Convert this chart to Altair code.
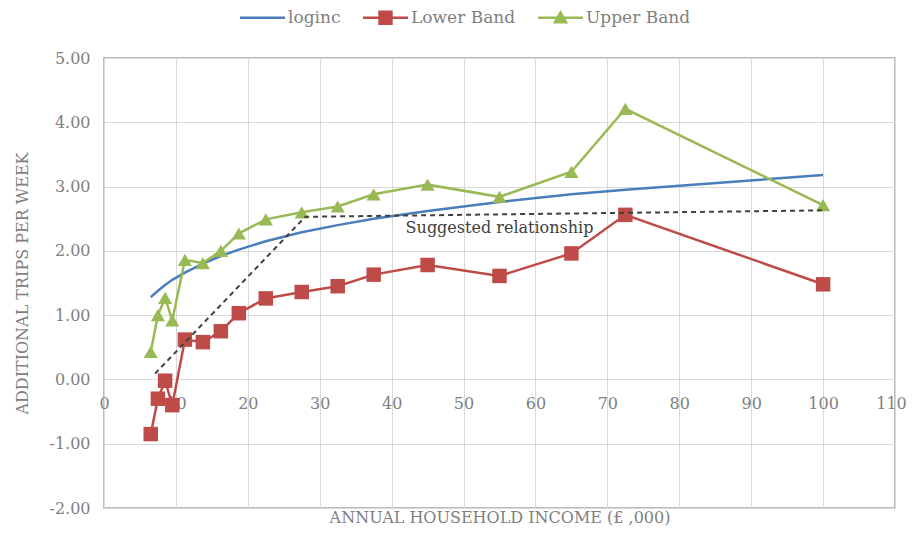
import altair as alt
import pandas as pd

# ---- data ----
income = [6.5, 7.5, 8.5, 9.5, 11.25, 13.75, 16.25, 18.75, 22.5, 27.5, 32.5, 37.5, 45, 55, 65, 72.5, 100]
loginc = [1.28, 1.38, 1.47, 1.55, 1.66, 1.80, 1.92, 2.02, 2.15, 2.29, 2.40, 2.50, 2.62, 2.76, 2.88, 2.95, 3.18]
lower_band = [-0.85, -0.30, -0.02, -0.40, 0.62, 0.58, 0.75, 1.03, 1.26, 1.36, 1.45, 1.63, 1.78, 1.61, 1.96, 2.56, 1.48]
upper_band = [0.43, 1.00, 1.27, 0.92, 1.86, 1.81, 2.00, 2.27, 2.49, 2.60, 2.69, 2.88, 3.03, 2.84, 3.23, 4.21, 2.71]

suggested_x = [7.1, 28.0, 100]
suggested_y = [0.09, 2.53, 2.63]

note_x = [55]
note_y = [2.36]
note_text = ["Suggested relationship"]

series_names = ["loginc", "Lower Band", "Upper Band"]
series_colors = ["#4A7EBB", "#BE4B48", "#98B954"]
# legend glyphs: line + marker drawn as filled shapes
legend_glyphs = [
    "M-1,-0.055L1,-0.055L1,0.055L-1,0.055Z",
    "M-1,-0.055L1,-0.055L1,0.055L-1,0.055ZM-0.32,-0.32L0.32,-0.32L0.32,0.32L-0.32,0.32Z",
    "M-1,-0.055L1,-0.055L1,0.055L-1,0.055ZM0,-0.34L0.34,0.26L-0.34,0.26Z",
]

x_ticks = [0, 10, 20, 30, 40, 50, 60, 70, 80, 90, 100, 110]
y_ticks = [-2, -1, 0, 1, 2, 3, 4, 5]

rows = []
for name, vals in zip(series_names, [loginc, lower_band, upper_band]):
    for xv, yv in zip(income, vals):
        rows.append({"income": xv, "value": yv, "series": name})
df = pd.DataFrame(rows)

sug_df = pd.DataFrame({"income": suggested_x, "value": suggested_y})
note_df = pd.DataFrame({"income": note_x, "value": note_y, "label": note_text})

SERIF = "DejaVu Serif"
GREY = "#7f7f7f"

x_scale = alt.Scale(domain=[0, 110], nice=False, zero=False)
y_scale = alt.Scale(domain=[-2, 5], nice=False, zero=False)
color_scale = alt.Scale(domain=series_names, range=series_colors)

x_axis = alt.Axis(
    values=x_ticks, grid=True, gridColor="#d9d9d9", gridWidth=1,
    domain=False, ticks=False, labelPadding=-113, labelFlush=False,
    labelOffset={"condition": {"test": "datum.value == 110", "value": -4}, "value": 0},
    labelOverlap=False, labelFont=SERIF, labelFontSize=16, labelColor=GREY,
    title="ANNUAL HOUSEHOLD INCOME (£ ,000)", titleFont=SERIF, titleFontSize=16,
    titleFontWeight="normal", titleColor=GREY, titleY=1,
)
y_axis = alt.Axis(
    values=y_ticks, grid=True, gridColor="#d9d9d9", gridWidth=1,
    domain=False, ticks=False, labelPadding=14,
    labelExpr="replace(format(datum.value, '.2f'), '\u2212', '-')",
    labelFont=SERIF, labelFontSize=16, labelColor=GREY,
    title="ADDITIONAL TRIPS PER WEEK", titleFont=SERIF, titleFontSize=16,
    titleFontWeight="normal", titleColor=GREY, titleX=-74, titleY=225,
)


def series_line(name, color):
    return alt.Chart(df).transform_filter(alt.datum.series == name).mark_line(
        strokeWidth=2.5, color=color
    )


line_loginc = series_line("loginc", series_colors[0])
line_lower = series_line("Lower Band", series_colors[1])
line_upper = series_line("Upper Band", series_colors[2])

squares = alt.Chart(df).transform_filter(
    alt.datum.series == "Lower Band"
).mark_point(shape="square", filled=True, size=210, opacity=1, color=series_colors[1])

triangles = alt.Chart(df).transform_filter(
    alt.datum.series == "Upper Band"
).mark_point(shape="triangle-up", filled=True, size=200, opacity=1, color=series_colors[2])

suggested = alt.Chart(sug_df).mark_line(
    color="#404040", strokeWidth=2, strokeDash=[5, 4]
)

note = alt.Chart(note_df).mark_text(
    font=SERIF, fontSize=16, color="#404040", align="center", baseline="middle"
).encode(text="label:N")

legend_cfg = dict(
    title=None, orient="none", direction="horizontal", legendX=136, legendY=-63,
    labelFont=SERIF, labelFontSize=17, labelColor=GREY, labelOffset=3,
    columnPadding=22, symbolSize=2025, symbolStrokeWidth=0,
)

legend_layer = alt.Chart(df).transform_filter("false").mark_point(
    filled=True, opacity=1, size=2025, strokeWidth=0
).encode(
    color=alt.Color("series:N", scale=color_scale, legend=alt.Legend(**legend_cfg)),
    shape=alt.Shape("series:N", scale=alt.Scale(domain=series_names, range=legend_glyphs),
                    legend=alt.Legend(**legend_cfg)),
)

chart = alt.layer(
    line_loginc, line_upper, line_lower, triangles, squares, suggested, note, legend_layer
).encode(
    x=alt.X("income:Q", scale=x_scale, axis=x_axis),
    y=alt.Y("value:Q", scale=y_scale, axis=y_axis),
).properties(
    width=791, height=450,
    autosize=alt.AutoSizeParams(type="none"),
    padding={"left": 96, "top": 50, "right": 11, "bottom": 18},
).configure_view(stroke="#a6a6a6", strokeWidth=1.5)

chart.save("out.html", embed_options={"renderer": "svg", "actions": False})
